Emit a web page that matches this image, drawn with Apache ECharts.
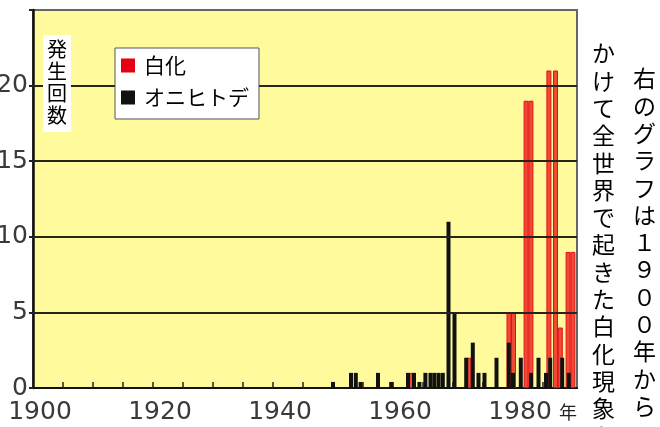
<!DOCTYPE html>
<html><head><meta charset="utf-8">
<script src="https://cdn.jsdelivr.net/npm/echarts@6/dist/echarts.min.js"></script>
<style>html,body{margin:0;padding:0;background:#fff;}#c{width:660px;height:427px;}</style>
</head><body><div id="c"></div>
<script>
// Data
const bleachYears = [1963.0, 1972.6, 1979.25, 1980.0, 1982.1, 1982.9, 1985.9, 1987.0, 1987.8, 1989.1, 1989.9];
const bleachCounts = [1, 2, 5, 5, 19, 19, 21, 21, 4, 9, 9];
const starfishYears = [1950.0, 1953.0, 1953.8, 1954.6, 1957.5, 1959.7, 1962.5, 1963.5, 1964.4, 1965.4, 1966.25, 1966.9, 1967.6, 1968.3, 1969.25, 1970.25, 1972.2, 1973.3, 1974.25, 1975.25, 1977.25, 1979.3, 1980.0, 1981.3, 1983.0, 1984.25, 1985.5, 1986.2, 1988.2, 1989.3];
const starfishCounts = [0.4, 1, 1, 0.4, 1, 0.4, 1, 1, 0.4, 1, 1, 1, 1, 1, 11, 5, 2, 3, 1, 1, 2, 3, 1, 2, 1, 2, 1, 2, 2, 1];
const yTicks = [0, 5, 10, 15, 20];
const xLabelYears = [1900, 1920, 1940, 1960, 1980];
const seriesNames = ['白化', 'オニヒトデ'];
const yAxisTitle = '発生回数';
const xUnit = '年';
const sideTextCol1 = '右のグラフは１９００年から';
const sideTextCol2 = 'かけて全世界で起きた白化現象を';

const chart = echarts.init(document.getElementById('c'), null, {renderer: 'canvas'});
const numFont = 'DejaVu Sans';
const jpFont = 'Noto Sans CJK JP';

const option = {
  animation: false,
  backgroundColor: '#fff',
  grid: {left: 33, top: 10, width: 544, height: 378, outerBoundsMode: 'none', containLabel: false, show: true, backgroundColor: '#fffa9c', borderColor: '#666', borderWidth: 2},
  xAxis: {
    type: 'value', min: 1900, max: 1900 + 544 / 6, interval: 5,
    axisLine: {show: true, onZero: false, lineStyle: {color: '#111', width: 2}},
    axisTick: {show: true, inside: true, length: 6, lineStyle: {color: '#222', width: 1.5}},
    axisLabel: {
      show: true, margin: 12, fontSize: 25, fontFamily: numFont, color: '#3a3a3a',
      padding: [0, 0, 0, 14],
      showMaxLabel: false,
      formatter: v => (xLabelYears.indexOf(Math.round(v)) >= 0 && Math.abs(v - Math.round(v)) < 1e-6) ? String(Math.round(v)) : ''
    },
    splitLine: {show: false}
  },
  yAxis: {
    type: 'value', min: 0, max: 25, interval: 5,
    axisLine: {show: true, lineStyle: {color: '#111', width: 2.5}},
    axisTick: {show: true, inside: false, length: 4, lineStyle: {color: '#222', width: 2}},
    axisLabel: {
      margin: 5, fontSize: 25, fontFamily: numFont, color: '#3a3a3a',
      formatter: v => yTicks.indexOf(v) >= 0 ? String(v) : ''
    },
    splitLine: {show: false}
  },
  legend: {
    orient: 'vertical', left: 115, top: 48, z: 10,
    backgroundColor: '#fff', borderColor: '#555', borderWidth: 1, borderRadius: 0,
    padding: [7, 10, 11, 6], itemGap: 11, itemWidth: 14, itemHeight: 14, icon: 'rect',
    textStyle: {fontSize: 21, fontFamily: jpFont, color: '#000', padding: [0, 0, 0, 4]},
    data: [
      {name: seriesNames[0], itemStyle: {color: '#e60012', borderWidth: 0}},
      {name: seriesNames[1], itemStyle: {color: '#111', borderWidth: 0}}
    ]
  },
  series: [
    {
      name: seriesNames[0], type: 'bar', z: 2, barWidth: 5, barGap: '-100%',
      itemStyle: {color: '#ef4a35', borderColor: '#e5101a', borderWidth: 1},
      data: bleachYears.map((y, i) => [y, bleachCounts[i]])
    },
    {
      name: seriesNames[1], type: 'bar', z: 3, barWidth: 4, barGap: '-100%',
      itemStyle: {color: '#111'},
      data: starfishYears.map((y, i) => [y, starfishCounts[i]]),
      markLine: {
        silent: true, symbol: 'none', animation: false,
        label: {show: false},
        lineStyle: {color: '#262618', width: 2, type: 'solid'},
        emphasis: {disabled: true},
        data: yTicks.filter(v => v > 0).map(v => ({yAxis: v}))
      }
    }
  ],
  graphic: [
    {
      type: 'text', left: 43, top: 35, z: 10,
      style: {text: yAxisTitle.split('').join('\n'), font: '20px "' + jpFont + '"', lineHeight: 22, fill: '#000', backgroundColor: '#fff', padding: [3, 4, 6, 4], align: 'center'}
    },
    {
      type: 'text', left: 559, top: 403, z: 10,
      style: {text: xUnit, font: '18px "' + jpFont + '"', fill: '#222'}
    },
    {
      type: 'text', left: 633, top: 65, z: 10,
      style: {text: sideTextCol1.split('').join('\n'), font: '23px "' + jpFont + '"', lineHeight: 27.3, fill: '#000', align: 'center'}
    },
    {
      type: 'text', left: 592, top: 40, z: 10,
      style: {text: sideTextCol2.split('').join('\n'), font: '23px "' + jpFont + '"', lineHeight: 27.3, fill: '#000', align: 'center'}
    }
  ]
};
chart.setOption(option);
</script>
</body></html>
